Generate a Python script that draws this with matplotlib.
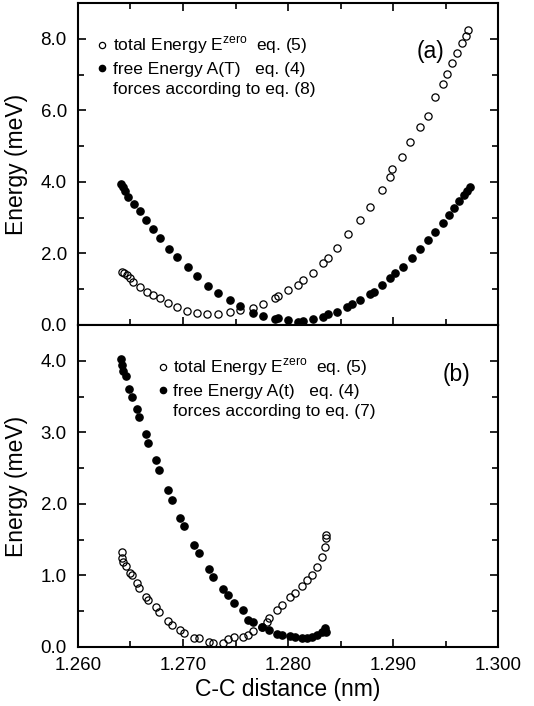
import numpy as np
import matplotlib.pyplot as plt
from matplotlib.lines import Line2D

plt.rcParams['font.family'] = ['Liberation Sans', 'DejaVu Sans']
plt.rcParams['mathtext.fontset'] = 'custom'
plt.rcParams['mathtext.rm'] = 'Liberation Sans'

# panel (a): total energy E^zero
xa_tot = [1.26416, 1.26438, 1.26463, 1.26495, 1.26527, 1.26590, 1.26654, 1.26717, 1.26781,
          1.26860, 1.26940, 1.27035, 1.27130, 1.27226, 1.27337, 1.27448, 1.27543, 1.27670,
          1.27765, 1.27876, 1.27908, 1.28003, 1.28098, 1.28146, 1.28241, 1.28336, 1.28384,
          1.28463, 1.28574, 1.28686, 1.28781, 1.28892, 1.28971, 1.28987, 1.29083, 1.29162,
          1.29257, 1.29336, 1.29400, 1.29479, 1.29511, 1.29559, 1.29606, 1.29654, 1.29695,
          1.29717]
ya_tot = [1.49, 1.46, 1.39, 1.30, 1.21, 1.07, 0.93, 0.84, 0.74,
          0.62, 0.51, 0.39, 0.34, 0.31, 0.30, 0.37, 0.42, 0.48,
          0.60, 0.74, 0.81, 0.97, 1.11, 1.25, 1.46, 1.74, 1.86,
          2.14, 2.55, 2.92, 3.30, 3.76, 4.13, 4.36, 4.69, 5.11,
          5.52, 5.85, 6.36, 6.73, 7.01, 7.33, 7.61, 7.89, 8.08,
          8.24]

# panel (a): free energy A(T)
xa_free = [1.26406, 1.26425, 1.26448, 1.26479, 1.26537, 1.26590, 1.26644, 1.26717, 1.26781,
           1.26867, 1.26940, 1.27044, 1.27130, 1.27241, 1.27330, 1.27448, 1.27543, 1.27670,
           1.27765, 1.27876, 1.27908, 1.28003, 1.28098, 1.28146, 1.28241, 1.28336, 1.28384,
           1.28463, 1.28559, 1.28606, 1.28686, 1.28781, 1.28813, 1.28892, 1.28971, 1.29019,
           1.29098, 1.29178, 1.29257, 1.29336, 1.29400, 1.29479, 1.29527, 1.29575, 1.29622,
           1.29670, 1.29702, 1.29733]
ya_free = [3.95, 3.85, 3.74, 3.57, 3.39, 3.18, 2.94, 2.67, 2.43,
           2.12, 1.89, 1.61, 1.36, 1.10, 0.88, 0.70, 0.53, 0.34,
           0.26, 0.16, 0.19, 0.14, 0.09, 0.12, 0.17, 0.23, 0.30,
           0.37, 0.49, 0.60, 0.70, 0.86, 0.93, 1.11, 1.30, 1.44,
           1.62, 1.86, 2.12, 2.37, 2.60, 2.85, 3.06, 3.28, 3.46,
           3.62, 3.74, 3.87]

# panel (b): total energy E^zero
xb_tot = [1.26416, 1.26419, 1.26432, 1.26457, 1.26495, 1.26517, 1.26559, 1.26584, 1.26644,
          1.26670, 1.26740, 1.26775, 1.26854, 1.26892, 1.26971, 1.27013, 1.27108, 1.27152,
          1.27248, 1.27289, 1.27384, 1.27425, 1.27489, 1.27568, 1.27622, 1.27670, 1.27749,
          1.27797, 1.27822, 1.27892, 1.27940, 1.28019, 1.28067, 1.28130, 1.28178, 1.28225,
          1.28273, 1.28321, 1.28352, 1.28362, 1.28362]
yb_tot = [1.33, 1.25, 1.19, 1.13, 1.03, 1.01, 0.90, 0.82, 0.70,
          0.65, 0.56, 0.49, 0.37, 0.31, 0.24, 0.19, 0.12, 0.12,
          0.07, 0.06, 0.06, 0.11, 0.14, 0.14, 0.17, 0.22, 0.28,
          0.35, 0.41, 0.52, 0.59, 0.70, 0.76, 0.85, 0.94, 1.01,
          1.12, 1.26, 1.40, 1.52, 1.56]

# panel (b): free energy A(t)
xb_free = [1.26406, 1.26419, 1.26432, 1.26457, 1.26489, 1.26511, 1.26559, 1.26584, 1.26644,
           1.26670, 1.26740, 1.26775, 1.26854, 1.26892, 1.26971, 1.27013, 1.27108, 1.27152,
           1.27248, 1.27289, 1.27384, 1.27425, 1.27489, 1.27568, 1.27622, 1.27670, 1.27749,
           1.27822, 1.27892, 1.27940, 1.28019, 1.28067, 1.28130, 1.28178, 1.28225, 1.28273,
           1.28321, 1.28352, 1.28362]
yb_free = [4.03, 3.94, 3.85, 3.78, 3.60, 3.50, 3.33, 3.21, 2.97,
           2.85, 2.61, 2.47, 2.19, 2.06, 1.80, 1.69, 1.43, 1.32,
           1.09, 0.98, 0.81, 0.73, 0.61, 0.52, 0.38, 0.35, 0.28,
           0.24, 0.18, 0.17, 0.15, 0.14, 0.12, 0.13, 0.14, 0.17,
           0.21, 0.26, 0.21]

xticks = [1.260, 1.270, 1.280, 1.290, 1.300]
xlabels = ['1.260', '1.270', '1.280', '1.290', '1.300']

fig = plt.figure(figsize=(5.34, 7.06), dpi=100)
axa = fig.add_axes([0.146, 0.5397, 0.787, 0.4561])
axb = fig.add_axes([0.146, 0.0836, 0.787, 0.4561])

ms = 5.2
for ax in (axa, axb):
    ax.set_xlim(1.260, 1.300)
    ax.set_xticks(xticks)
    ax.set_xticks(np.arange(1.260, 1.3001, 0.005), minor=True)
    for s in ax.spines.values():
        s.set_linewidth(1.5)
    ax.tick_params(which='both', direction='in', right=True, width=1.2)
    ax.tick_params(which='major', length=6)
    ax.tick_params(which='minor', length=4)
    ax.tick_params(axis='y', labelsize=13.5, pad=8)
    ax.set_ylabel('Energy (meV)', fontsize=16.5)
    ax.yaxis.set_label_coords(-0.12, 0.5)

axa.plot(xa_tot, ya_tot, 'o', mfc='none', mec='black', mew=0.9, ms=ms)
axa.plot(xa_free, ya_free, 'o', mfc='black', mec='black', ms=ms)
axa.set_ylim(0, 9)
axa.set_yticks([0, 2, 4, 6, 8])
axa.set_yticklabels(['0.0', '2.0', '4.0', '6.0', '8.0'])
axa.set_yticks(np.arange(0, 9.01, 1), minor=True)
axa.tick_params(which='both', top=True, labelbottom=False)
axa.text(0.84, 0.848, '(a)', transform=axa.transAxes, fontsize=16.5, ha='center', va='center')

axb.plot(xb_tot, yb_tot, 'o', mfc='none', mec='black', mew=0.9, ms=ms)
axb.plot(xb_free, yb_free, 'o', mfc='black', mec='black', ms=ms)
axb.set_ylim(0, 4.5)
axb.set_yticks([0, 1, 2, 3, 4])
axb.set_yticklabels(['0.0', '1.0', '2.0', '3.0', '4.0'])
axb.set_yticks(np.arange(0, 4.51, 0.5), minor=True)
axb.set_xticklabels(xlabels)
axb.tick_params(axis='x', labelsize=13.5, pad=7)
axb.set_xlabel('C-C distance (nm)', fontsize=16.5, labelpad=3)
axb.text(0.90, 0.845, '(b)', transform=axb.transAxes, fontsize=16.5, ha='center', va='center')

def add_legend(ax, lab1, lab2, lab3, anchor):
    h = [Line2D([], [], ls='none', marker='o', mfc='none', mec='black', ms=4.5, mew=0.9),
         Line2D([], [], ls='none', marker='o', mfc='black', mec='black', ms=4.5),
         Line2D([], [], ls='none')]
    ax.legend(h, [lab1, lab2, lab3], loc='upper left', bbox_to_anchor=anchor,
              frameon=False, fontsize=12.5, handlelength=0.6, handletextpad=0.3,
              labelspacing=0.3, borderpad=0, borderaxespad=0)

add_legend(axa, r'total Energy E$^{\mathregular{zero}}$  eq. (5)', 'free Energy A(T)   eq. (4)',
           'forces according to eq. (8)', (0.045, 0.90))
add_legend(axb, r'total Energy E$^{\mathregular{zero}}$  eq. (5)', 'free Energy A(t)   eq. (4)',
           'forces according to eq. (7)', (0.19, 0.90))

fig.savefig('out.png', dpi=100)
